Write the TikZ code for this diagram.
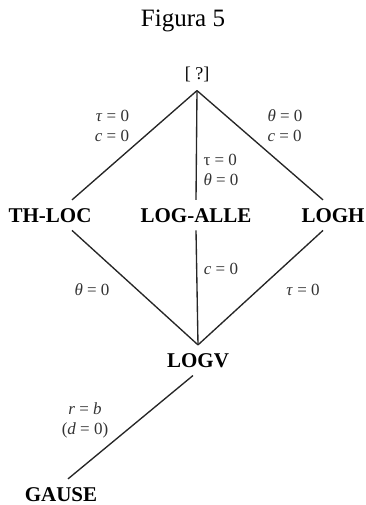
\documentclass[tikz,border=0pt]{standalone}
\usepackage{fontspec}
\setmainfont{Liberation Serif}
\usetikzlibrary{positioning}
\tikzset{
  model/.style={font=\fontsize{21}{25}\selectfont\bfseries, inner sep=8pt, anchor=base},
  cond/.style={font=\fontsize{17}{20}\selectfont, text=black!80, inner sep=0pt},
  link/.style={line width=1.35pt, black!85}
}

\begin{document}
\begin{tikzpicture}[x=1pt,y=-1pt]
\useasboundingbox (0,0) rectangle (365,505);
% title and models
\node[anchor=base, font=\fontsize{25}{29}\selectfont] (title) at (183,27) {Figura 5};
\node[model, font=\fontsize{18}{22}\selectfont] (top) at (197,80) {[ ?]};
\node[model] (thloc) at (50,222) {TH-LOC};
\node[model] (alle) at (196,222) {LOG-ALLE};
\node[model] (logh) at (333,222) {LOGH};
\node[model] (logv) at (198,367) {LOGV};
\node[model] (gause) at (61,501) {GAUSE};
% links
\draw[link] (top.south) -- ([xshift=22pt]thloc.north);
\draw[link] (top.south) -- (alle.north);
\draw[link] (top.south) -- ([xshift=-10pt]logh.north);
\draw[link] ([xshift=22pt]thloc.south) -- (logv.north);
\draw[link] (alle.south) -- (logv.north);
\draw[link] ([xshift=-10pt]logh.south) -- (logv.north);
\draw[link] ([xshift=-5pt]logv.south) -- ([xshift=7pt]gause.north);
% conditions
\node[cond, align=right] (c1) at (112,126) {\textit{τ} = 0\\\textit{c} = 0};
\node[cond, align=left] (c2) at (285,126) {\textit{θ} = 0\\\textit{c} = 0};
\node[cond, align=left] (c3) at (221,170) {τ = 0\\\textit{θ} = 0};
\node[cond] (c4) at (92,290) {\textit{θ} = 0};
\node[cond] (c5) at (221,269) {\textit{c} = 0};
\node[cond] (c6) at (303,290) {\textit{τ} = 0};
\node[cond, align=center] (c7) at (85,420) {\textit{r} = \textit{b}\\(\textit{d} = 0)};
\end{tikzpicture}
\end{document}
